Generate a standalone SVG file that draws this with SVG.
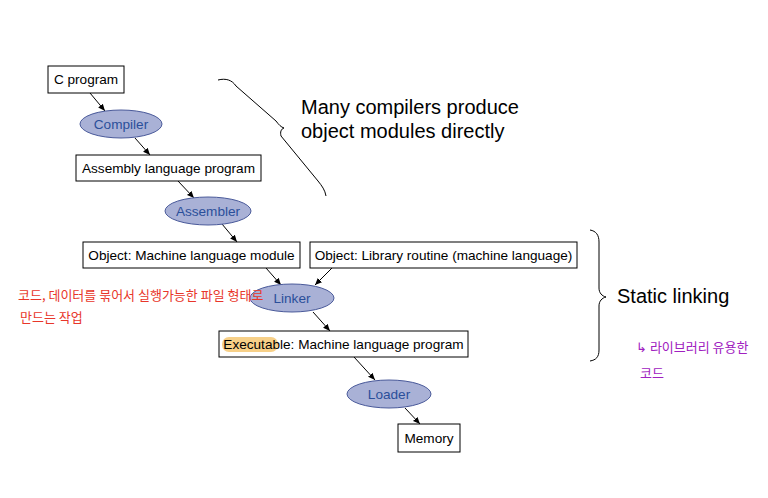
<svg xmlns="http://www.w3.org/2000/svg" width="768" height="498" viewBox="0 0 768 498">
<defs>
<marker id="ah" markerWidth="8" markerHeight="8" refX="7" refY="4" orient="auto" markerUnits="userSpaceOnUse">
<path d="M0,1 L7,4 L0,7 z" fill="#000"/>
</marker>
<style>
.box{fill:#fff;stroke:#000;stroke-width:1}
.ell{fill:#a9b1d6;stroke:#4a5a9a;stroke-width:1}
.bt{font-family:"Liberation Sans",Arial,sans-serif;font-size:13.6px;fill:#000;text-anchor:middle}
.et{font-family:"Liberation Sans",Arial,sans-serif;font-size:13.6px;fill:#2b4f9a;text-anchor:middle}
.big{font-family:"Liberation Sans",Arial,sans-serif;font-size:20px;fill:#000}
.con{stroke:#000;stroke-width:1;fill:none;marker-end:url(#ah)}
.brace{stroke:#000;stroke-width:1;fill:none}
.red{font-family:"Noto Sans CJK KR",sans-serif;font-size:13px;fill:#e8362a}
.pur{font-family:"Noto Sans CJK KR",sans-serif;font-size:13px;fill:#a020c0}
</style>
</defs>
<rect width="768" height="498" fill="#fff"/>
<g id="connectors">
<line class="con" x1="90" y1="93" x2="105" y2="111"/>
<line class="con" x1="135" y1="138" x2="150" y2="155"/>
<line class="con" x1="178" y1="181" x2="194" y2="198"/>
<line class="con" x1="222" y1="224" x2="237" y2="242"/>
<line class="con" x1="266" y1="268" x2="281" y2="285"/>
<line class="con" x1="332" y1="268" x2="315" y2="285"/>
<line class="con" x1="313" y1="312" x2="330" y2="331"/>
<line class="con" x1="354" y1="357" x2="375" y2="380"/>
<line class="con" x1="405" y1="408" x2="420" y2="424"/>
</g>
<g id="c-program"><rect class="box" x="48" y="66" width="76" height="27"/><text class="bt" x="86" y="84">C program</text></g>
<g id="compiler"><ellipse class="ell" cx="121" cy="124" rx="41" ry="14"/><text class="et" x="121" y="129">Compiler</text></g>
<g id="assembly"><rect class="box" x="76" y="155" width="185" height="26"/><text class="bt" x="168.5" y="173">Assembly language program</text></g>
<g id="assembler"><ellipse class="ell" cx="208" cy="211" rx="43" ry="14"/><text class="et" x="208" y="216">Assembler</text></g>
<g id="object-module"><rect class="box" x="83" y="242" width="217" height="26"/><text class="bt" x="191.5" y="260">Object: Machine language module</text></g>
<g id="library"><rect class="box" x="310" y="242" width="267" height="26"/><text class="bt" x="443.5" y="260">Object: Library routine (machine language)</text></g>
<g id="linker"><ellipse class="ell" cx="292" cy="298" rx="42" ry="14"/><text class="et" x="292" y="303">Linker</text></g>
<g id="executable"><rect class="box" x="219" y="331" width="249" height="26"/><rect x="222" y="337" width="56" height="15" rx="7" fill="#f5c46a" opacity="0.8"/><text class="bt" x="343.5" y="349">Executable: Machine language program</text></g>
<g id="loader"><ellipse class="ell" cx="389" cy="394" rx="42" ry="14"/><text class="et" x="389" y="399">Loader</text></g>
<g id="memory"><rect class="box" x="398" y="424" width="62" height="28"/><text class="bt" x="429" y="443">Memory</text></g>
<g id="brace-compilers">
<path class="brace" d="M218,80 C226,78 232,80 236,86 L276,121 C279,125 281,127 284,128 C281,129 280,132 281,136 L318,181 C322,186 325,190 326,196"/>
<text class="big" x="301" y="114">Many compilers produce</text>
<text class="big" x="301" y="138">object modules directly</text>
</g>
<g id="brace-static">
<path class="brace" d="M590,230 C596,231 599,235 599,242 L599,288 C599,293 602,296 606,297 C602,298 599,301 599,306 L599,350 C599,357 596,360 590,361"/>
<text class="big" x="617" y="303">Static linking</text>
</g>
<g id="annotations">
<text class="red" x="18" y="300">코드, 데이터를  묶어서  실행가능한  파일 형태로</text>
<text class="red" x="20" y="322">만드는 작업</text>
<text class="pur" x="636" y="352">↳ 라이브러리 유용한</text>
<text class="pur" x="640" y="378">코드</text>
</g>
</svg>
